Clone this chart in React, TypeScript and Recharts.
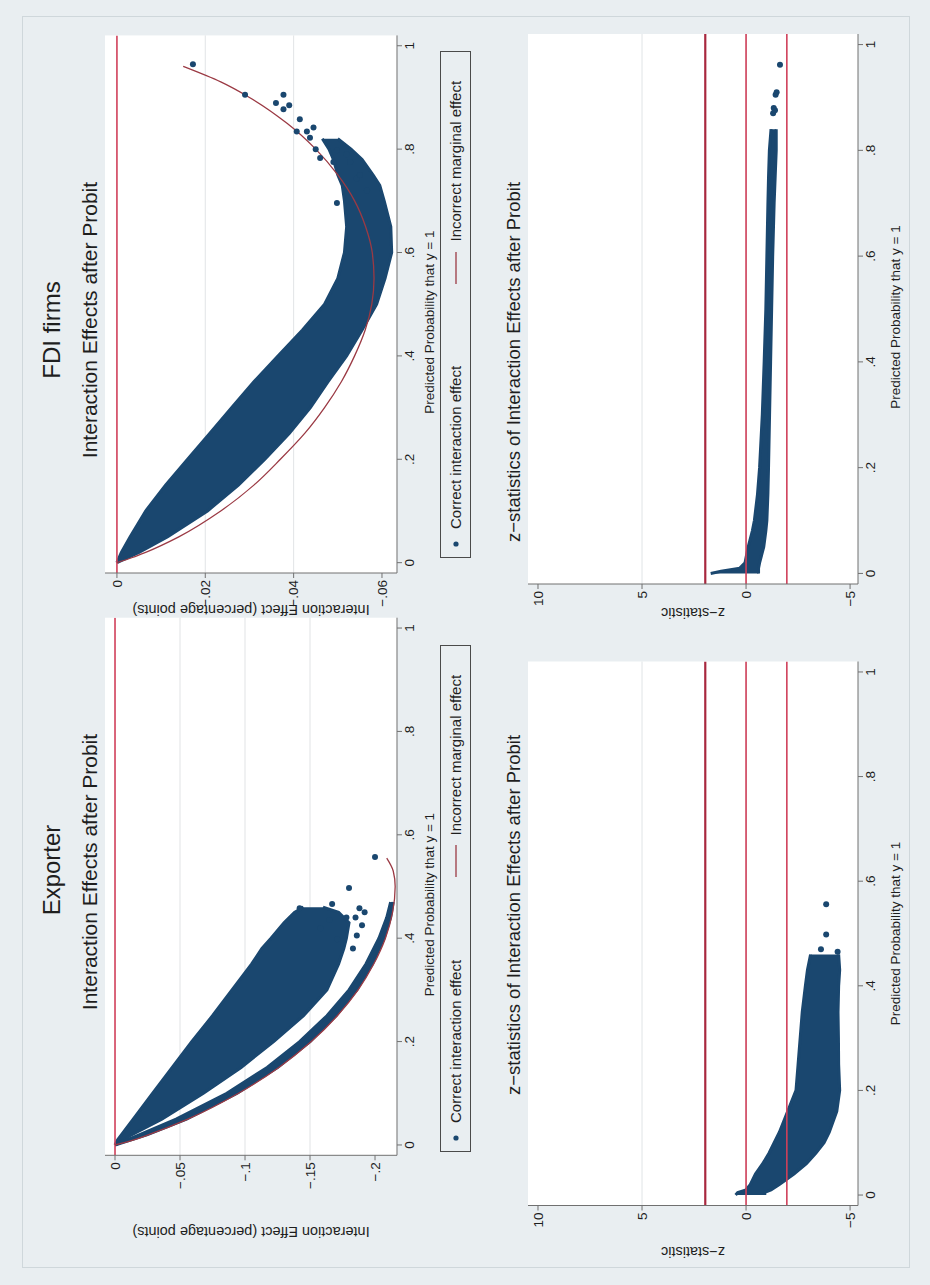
import React from 'react';
import {
  ComposedChart,
  Area,
  Line,
  Scatter,
  XAxis,
  YAxis,
  CartesianGrid,
  Legend,
} from 'recharts';

const NAVY = '#1a476f';
const MAROON = '#9b3a44';
const ZERO_RED = '#d0405a';
const CRIT_DARK = '#a8283f';
const GRID = '#e1e4e6';
const AXIS = '#707070';
const BG = '#e9eef1';
const INK = '#1e1e1e';
const FONT = '"Liberation Sans", Arial, Helvetica, sans-serif';

// the figure is drawn landscape and turned a quarter turn, like the scanned page
const W = 1285;
const H = 930;

const probDomain: [number, number] = [-0.02, 1.02];
const probTicks = [0, 0.2, 0.4, 0.6, 0.8, 1];
const exporterTicks = [0, -0.05, -0.1, -0.15, -0.2];
const fdiTicks = [0, -0.02, -0.04, -0.06];
const zTicks = [10, 5, 0, -5];

// Exporter: correct interaction effect, main wedge of the cloud
const expWedgeP = [0, 0.01, 0.02, 0.05, 0.1, 0.15, 0.2, 0.25, 0.3, 0.35, 0.38, 0.4, 0.43, 0.45, 0.46];
const expWedgeLo = [0, -0.007, -0.013, -0.036, -0.068, -0.097, -0.122, -0.145, -0.163, -0.172, -0.176, -0.178, -0.18, -0.172, -0.16];
const expWedgeHi = [0, -0.002, -0.005, -0.014, -0.029, -0.044, -0.059, -0.075, -0.09, -0.105, -0.113, -0.12, -0.13, -0.138, -0.145];
// Exporter: thin strip of points lying on the marginal-effect curve
const expStripP = [0, 0.02, 0.05, 0.1, 0.15, 0.2, 0.25, 0.3, 0.35, 0.4, 0.44, 0.47];
const expStripLo = [0, -0.025, -0.055, -0.094, -0.125, -0.15, -0.17, -0.186, -0.198, -0.207, -0.212, -0.214];
const expStripHi = [0, -0.019, -0.047, -0.086, -0.117, -0.142, -0.163, -0.18, -0.193, -0.203, -0.209, -0.212];
// Exporter: scattered points at the tip
const expDotsP = [0.38, 0.398, 0.419, 0.44, 0.458, 0.44, 0.458, 0.466, 0.497, 0.557, 0.425, 0.405, 0.45, 0.435];
const expDotsV = [-0.183, -0.171, -0.158, -0.178, -0.188, -0.185, -0.142, -0.167, -0.18, -0.2, -0.19, -0.186, -0.192, -0.165];
// Exporter: incorrect marginal effect
const expMargP = [0, 0.01, 0.02, 0.05, 0.1, 0.15, 0.2, 0.25, 0.3, 0.35, 0.4, 0.45, 0.5, 0.53, 0.555];
const expMargV = [0, -0.0145, -0.026, -0.056, -0.095, -0.126, -0.151, -0.171, -0.187, -0.199, -0.208, -0.2135, -0.2155, -0.214, -0.209];

// FDI firms: correct interaction effect cloud
const fdiCloudP = [0, 0.02, 0.05, 0.1, 0.15, 0.2, 0.25, 0.3, 0.35, 0.4, 0.45, 0.5, 0.55, 0.6, 0.65, 0.7, 0.73, 0.75, 0.78, 0.8, 0.82];
const fdiCloudLo = [0, -0.005, -0.0115, -0.0205, -0.0275, -0.0335, -0.039, -0.0438, -0.0478, -0.052, -0.0555, -0.0588, -0.0607, -0.0622, -0.062, -0.0605, -0.0595, -0.058, -0.0555, -0.053, -0.05];
const fdiCloudHi = [0, -0.001, -0.003, -0.0065, -0.011, -0.016, -0.021, -0.026, -0.031, -0.0365, -0.042, -0.047, -0.05, -0.0515, -0.052, -0.0515, -0.051, -0.05, -0.049, -0.048, -0.0465];
const fdiDotsP = [0.696, 0.72, 0.743, 0.75, 0.775, 0.775, 0.783, 0.79, 0.798, 0.8, 0.822, 0.834, 0.834, 0.842, 0.858, 0.877, 0.885, 0.889, 0.905, 0.905, 0.964];
const fdiDotsV = [-0.0498, -0.0566, -0.0543, -0.055, -0.049, -0.0528, -0.046, -0.052, -0.0498, -0.045, -0.0437, -0.043, -0.0407, -0.0445, -0.0414, -0.0377, -0.039, -0.036, -0.0377, -0.029, -0.0172];
const fdiMargP = [0, 0.01, 0.02, 0.05, 0.1, 0.15, 0.2, 0.25, 0.3, 0.35, 0.4, 0.45, 0.5, 0.55, 0.6, 0.65, 0.7, 0.75, 0.8, 0.85, 0.9, 0.93, 0.96];
const fdiMargV = [0, -0.0035, -0.0065, -0.014, -0.0235, -0.031, -0.037, -0.0425, -0.047, -0.0508, -0.0538, -0.0562, -0.0577, -0.0582, -0.0578, -0.0563, -0.0538, -0.05, -0.045, -0.0385, -0.03, -0.0235, -0.015];

// z-statistics, Exporter
const expZP = [0, 0.005, 0.01, 0.02, 0.04, 0.06, 0.08, 0.1, 0.12, 0.16, 0.2, 0.25, 0.3, 0.35, 0.4, 0.43, 0.46];
const expZLo = [-0.9, -0.9, -1.2, -1.6, -2.3, -2.9, -3.35, -3.75, -4.0, -4.36, -4.5, -4.45, -4.44, -4.42, -4.45, -4.5, -4.45];
const expZHi = [0.5, 0.4, 0.0, -0.2, -0.45, -0.8, -1.1, -1.35, -1.6, -2.0, -2.4, -2.5, -2.6, -2.7, -2.85, -2.95, -3.1];
const expZDotsP = [0.47, 0.498, 0.556, 0.465];
const expZDotsV = [-3.6, -3.85, -3.85, -4.4];

// z-statistics, FDI firms
const fdiZP = [0, 0.004, 0.01, 0.02, 0.05, 0.08, 0.1, 0.15, 0.2, 0.3, 0.4, 0.5, 0.6, 0.7, 0.75, 0.8, 0.84];
const fdiZLo = [-0.6, -0.6, -0.6, -0.65, -0.85, -0.95, -1.0, -1.05, -1.08, -1.13, -1.18, -1.23, -1.28, -1.35, -1.4, -1.45, -1.45];
const fdiZHi = [1.7, 1.2, 0.3, 0.05, -0.1, -0.3, -0.4, -0.55, -0.65, -0.78, -0.87, -0.95, -1.0, -1.05, -1.08, -1.12, -1.2];
const fdiZDotsP = [0.87, 0.876, 0.88, 0.905, 0.91, 0.962];
const fdiZDotsV = [-1.3, -1.39, -1.33, -1.42, -1.47, -1.63];

// horizontal reference lines (yline) in each panel
const effectLines = [0];
const zLines = [1.96, 0, -1.96];

const toBand = (p: number[], lo: number[], hi: number[]) =>
  p.map((x, i) => ({ p: x, band: [lo[i], hi[i]] }));
const toPoints = (p: number[], v: number[]) => p.map((x, i) => ({ p: x, v: v[i] }));
// a yline across the whole plot region, drawn as a series so it sits under the points
const toYLine = (v: number) => probDomain.map((p) => ({ p, v }));

const fmt = (v: number) => {
  if (v === 0) return '0';
  const s = String(Math.abs(v)).replace(/^0\./, '.');
  return v < 0 ? `\u2212${s}` : s;
};

const Dot = (props: any) => <circle cx={props.cx} cy={props.cy} r={3} fill={NAVY} />;

function StataLegend({ payload }: any) {
  const items = (payload || [])
    .filter((e: any) => e.type === 'circle' || e.type === 'line')
    .sort((a: any, b: any) => (a.type === 'circle' ? -1 : 1) - (b.type === 'circle' ? -1 : 1));
  return (
    <div
      style={{
        height: 31,
        boxSizing: 'border-box',
        border: '1px solid #4a4a4a',
        background: BG,
        display: 'flex',
        alignItems: 'center',
        fontFamily: FONT,
        fontSize: 15,
        color: INK,
      }}
    >
      {items.map((e: any, i: number) => (
        <div key={e.value} style={{ flex: 1, display: 'flex', alignItems: 'center', paddingLeft: i === 0 ? 8 : 26 }}>
          {e.type === 'circle' ? (
            <svg width={16} height={10}>
              <circle cx={5} cy={5} r={2.6} fill={NAVY} />
            </svg>
          ) : (
            <svg width={42} height={10}>
              <line x1={4} y1={5} x2={36} y2={5} stroke={MAROON} strokeWidth={1.3} />
            </svg>
          )}
          <span style={{ marginLeft: 4 }}>{e.value}</span>
        </div>
      ))}
    </div>
  );
}

interface Box {
  left: number;
  top: number;
  width: number;
  height: number;
}

interface PanelProps {
  plot: Box;
  yAxisWidth: number;
  xAxisHeight: number;
  below?: number;
  titleShift?: number;
  yDomain: [number, number];
  yTicks: number[];
  yTitle: string;
  ylines: number[];
  legend?: { left: number; top: number; width: number };
  children: React.ReactNode;
}

const PAD = 24; // room so the rotated axis title is not clipped

function Panel({
  plot,
  yAxisWidth,
  xAxisHeight,
  below = 8,
  titleShift = 0,
  yDomain,
  yTicks,
  yTitle,
  ylines,
  legend,
  children,
}: PanelProps) {
  const left = plot.left - yAxisWidth - PAD;
  const width = PAD + yAxisWidth + plot.width + 4;
  const height = plot.height + xAxisHeight + below;
  const tickStyle = { fontSize: 13.5, fill: INK, fontFamily: FONT };
  // Stata leaves out the grid lines at the first and last tick
  const inner = yTicks.slice(1, -1);
  const gridRows = ({ yAxis, offset }: any) => {
    const sc = yAxis && yAxis.scale;
    if (typeof sc === 'function') return inner.map((t) => sc(t));
    if (sc && typeof sc.map === 'function') return inner.map((t) => sc.map(t));
    const top = offset?.top ?? 0;
    const h = offset?.height ?? plot.height;
    const [lo, hi] = yDomain;
    return inner.map((t) => top + ((hi - t) / (hi - lo)) * h);
  };
  return (
    <div style={{ position: 'absolute', left, top: plot.top }}>
      <ComposedChart width={width} height={height} margin={{ top: 0, right: 4, bottom: below, left: PAD }}>
        <CartesianGrid
          vertical={false}
          stroke={GRID}
          fill="#ffffff"
          horizontalCoordinatesGenerator={gridRows}
        />
        <XAxis
          type="number"
          dataKey="p"
          domain={probDomain}
          ticks={probTicks}
          allowDataOverflow
          height={xAxisHeight}
          tickFormatter={fmt}
          tick={tickStyle}
          tickSize={5}
          tickMargin={2}
          stroke={AXIS}
          label={{
            value: 'Predicted Probability that y = 1',
            position: 'insideBottom',
            offset: 0,
            dx: titleShift,
            fill: INK,
            fontSize: 13.5,
            fontFamily: FONT,
          }}
        />
        <YAxis
          type="number"
          dataKey="v"
          domain={yDomain}
          ticks={yTicks}
          allowDataOverflow
          width={yAxisWidth}
          tickFormatter={fmt}
          tick={tickStyle}
          tickSize={5}
          tickMargin={2}
          stroke={AXIS}
          label={{
            value: yTitle,
            angle: -90,
            position: 'insideLeft',
            offset: 0,
            fill: INK,
            fontSize: 14.5,
            fontFamily: FONT,
            style: { textAnchor: 'middle' },
          }}
        />
        {ylines.map((v, i) => (
          <Line
            key={`yl${v}`}
            data={toYLine(v)}
            dataKey="v"
            type="linear"
            stroke={ylines.length > 1 && i === 0 ? CRIT_DARK : ZERO_RED}
            strokeWidth={ylines.length > 1 && i === 0 ? 2.2 : 1.6}
            dot={false}
            legendType="none"
            isAnimationActive={false}
          />
        ))}
        {children}
        {legend && (
          <Legend
            layout="horizontal"
            verticalAlign="middle"
            align="center"
            wrapperStyle={{ left: legend.left - left, top: legend.top - plot.top, width: legend.width }}
            content={<StataLegend />}
          />
        )}
      </ComposedChart>
    </div>
  );
}

function Caption({ text, cx, cy, size }: { text: string; cx: number; cy: number; size: number }) {
  return (
    <div
      style={{
        position: 'absolute',
        left: cx - 300,
        width: 600,
        top: cy - size * 0.6,
        lineHeight: `${size * 1.2}px`,
        fontSize: size,
        fontFamily: FONT,
        color: INK,
        textAlign: 'center',
        whiteSpace: 'nowrap',
      }}
    >
      {text}
    </div>
  );
}

const expTop: Box = { left: 129.7, top: 105, width: 537.6, height: 292 };
const fdiTop: Box = { left: 711.7, top: 105, width: 537.6, height: 292 };
const expZ: Box = { left: 79.5, top: 528, width: 544, height: 330 };
const fdiZ: Box = { left: 701, top: 528, width: 550, height: 330 };

export default function App() {
  const cloud = (data: any[]) => (
    <Area
      data={data}
      dataKey="band"
      type="linear"
      fill={NAVY}
      fillOpacity={1}
      stroke={NAVY}
      strokeWidth={3}
      legendType="none"
      isAnimationActive={false}
    />
  );
  return (
    <div style={{ position: 'absolute', left: 0, top: 0, width: H, height: W, overflow: 'hidden', background: BG }}>
      <div
        style={{
          position: 'absolute',
          left: 0,
          top: 0,
          width: W,
          height: H,
          background: BG,
          transformOrigin: '0 0',
          transform: `translate(0px, ${W}px) rotate(-90deg)`,
        }}
      >
        <div style={{ position: 'absolute', left: 17, top: 22, width: 1250, height: 886, border: '1px solid #cfd7db' }} />

        <Caption text="Exporter" cx={415} cy={52} size={24} />
        <Caption text="FDI firms" cx={955} cy={52} size={24} />
        <Caption text="Interaction Effects after Probit" cx={413} cy={90} size={21} />
        <Caption text="Interaction Effects after Probit" cx={965} cy={90} size={21} />
        <Caption text="z−statistics of Interaction Effects after Probit" cx={370} cy={514} size={18.5} />
        <Caption text="z−statistics of Interaction Effects after Probit" cx={923} cy={514} size={18.5} />

        <Panel
          plot={expTop}
          yAxisWidth={76.7}
          xAxisHeight={37.5}
          below={45}
          titleShift={-18}
          yDomain={[-0.2169, 0.0077]}
          yTicks={exporterTicks}
          yTitle="Interaction Effect (percentage points)"
          ylines={effectLines}
          legend={{ left: 133, top: 440, width: 507 }}
        >
          {cloud(toBand(expWedgeP, expWedgeLo, expWedgeHi))}
          {cloud(toBand(expStripP, expStripLo, expStripHi))}
          <Scatter
            name="Correct interaction effect"
            data={toPoints(expDotsP, expDotsV)}
            fill={NAVY}
            shape={Dot}
            legendType="circle"
            isAnimationActive={false}
          />
          <Line
            name="Incorrect marginal effect"
            data={toPoints(expMargP, expMargV)}
            dataKey="v"
            type="monotone"
            stroke={MAROON}
            strokeWidth={1.3}
            dot={false}
            legendType="line"
            isAnimationActive={false}
          />
        </Panel>

        <Panel
          plot={fdiTop}
          yAxisWidth={37}
          xAxisHeight={37.5}
          below={45}
          titleShift={-18}
          yDomain={[-0.0634, 0.0027]}
          yTicks={fdiTicks}
          yTitle="Interaction Effect (percentage points)"
          ylines={effectLines}
          legend={{ left: 727, top: 440, width: 507 }}
        >
          {cloud(toBand(fdiCloudP, fdiCloudLo, fdiCloudHi))}
          <Scatter
            name="Correct interaction effect"
            data={toPoints(fdiDotsP, fdiDotsV)}
            fill={NAVY}
            shape={Dot}
            legendType="circle"
            isAnimationActive={false}
          />
          <Line
            name="Incorrect marginal effect"
            data={toPoints(fdiMargP, fdiMargV)}
            dataKey="v"
            type="monotone"
            stroke={MAROON}
            strokeWidth={1.3}
            dot={false}
            legendType="line"
            isAnimationActive={false}
          />
        </Panel>

        <Panel
          plot={expZ}
          yAxisWidth={46.5}
          xAxisHeight={41.5}
          yDomain={[-5.38, 10.48]}
          yTicks={zTicks}
          yTitle="z−statistic"
          ylines={zLines}
        >
          {cloud(toBand(expZP, expZLo, expZHi))}
          <Scatter
            name="z-statistic"
            data={toPoints(expZDotsP, expZDotsV)}
            fill={NAVY}
            shape={Dot}
            isAnimationActive={false}
          />
        </Panel>

        <Panel
          plot={fdiZ}
          yAxisWidth={29}
          xAxisHeight={41.5}
          titleShift={-8}
          yDomain={[-5.38, 10.48]}
          yTicks={zTicks}
          yTitle="z−statistic"
          ylines={zLines}
        >
          {cloud(toBand(fdiZP, fdiZLo, fdiZHi))}
          <Scatter
            name="z-statistic"
            data={toPoints(fdiZDotsP, fdiZDotsV)}
            fill={NAVY}
            shape={Dot}
            isAnimationActive={false}
          />
        </Panel>
      </div>
    </div>
  );
}
